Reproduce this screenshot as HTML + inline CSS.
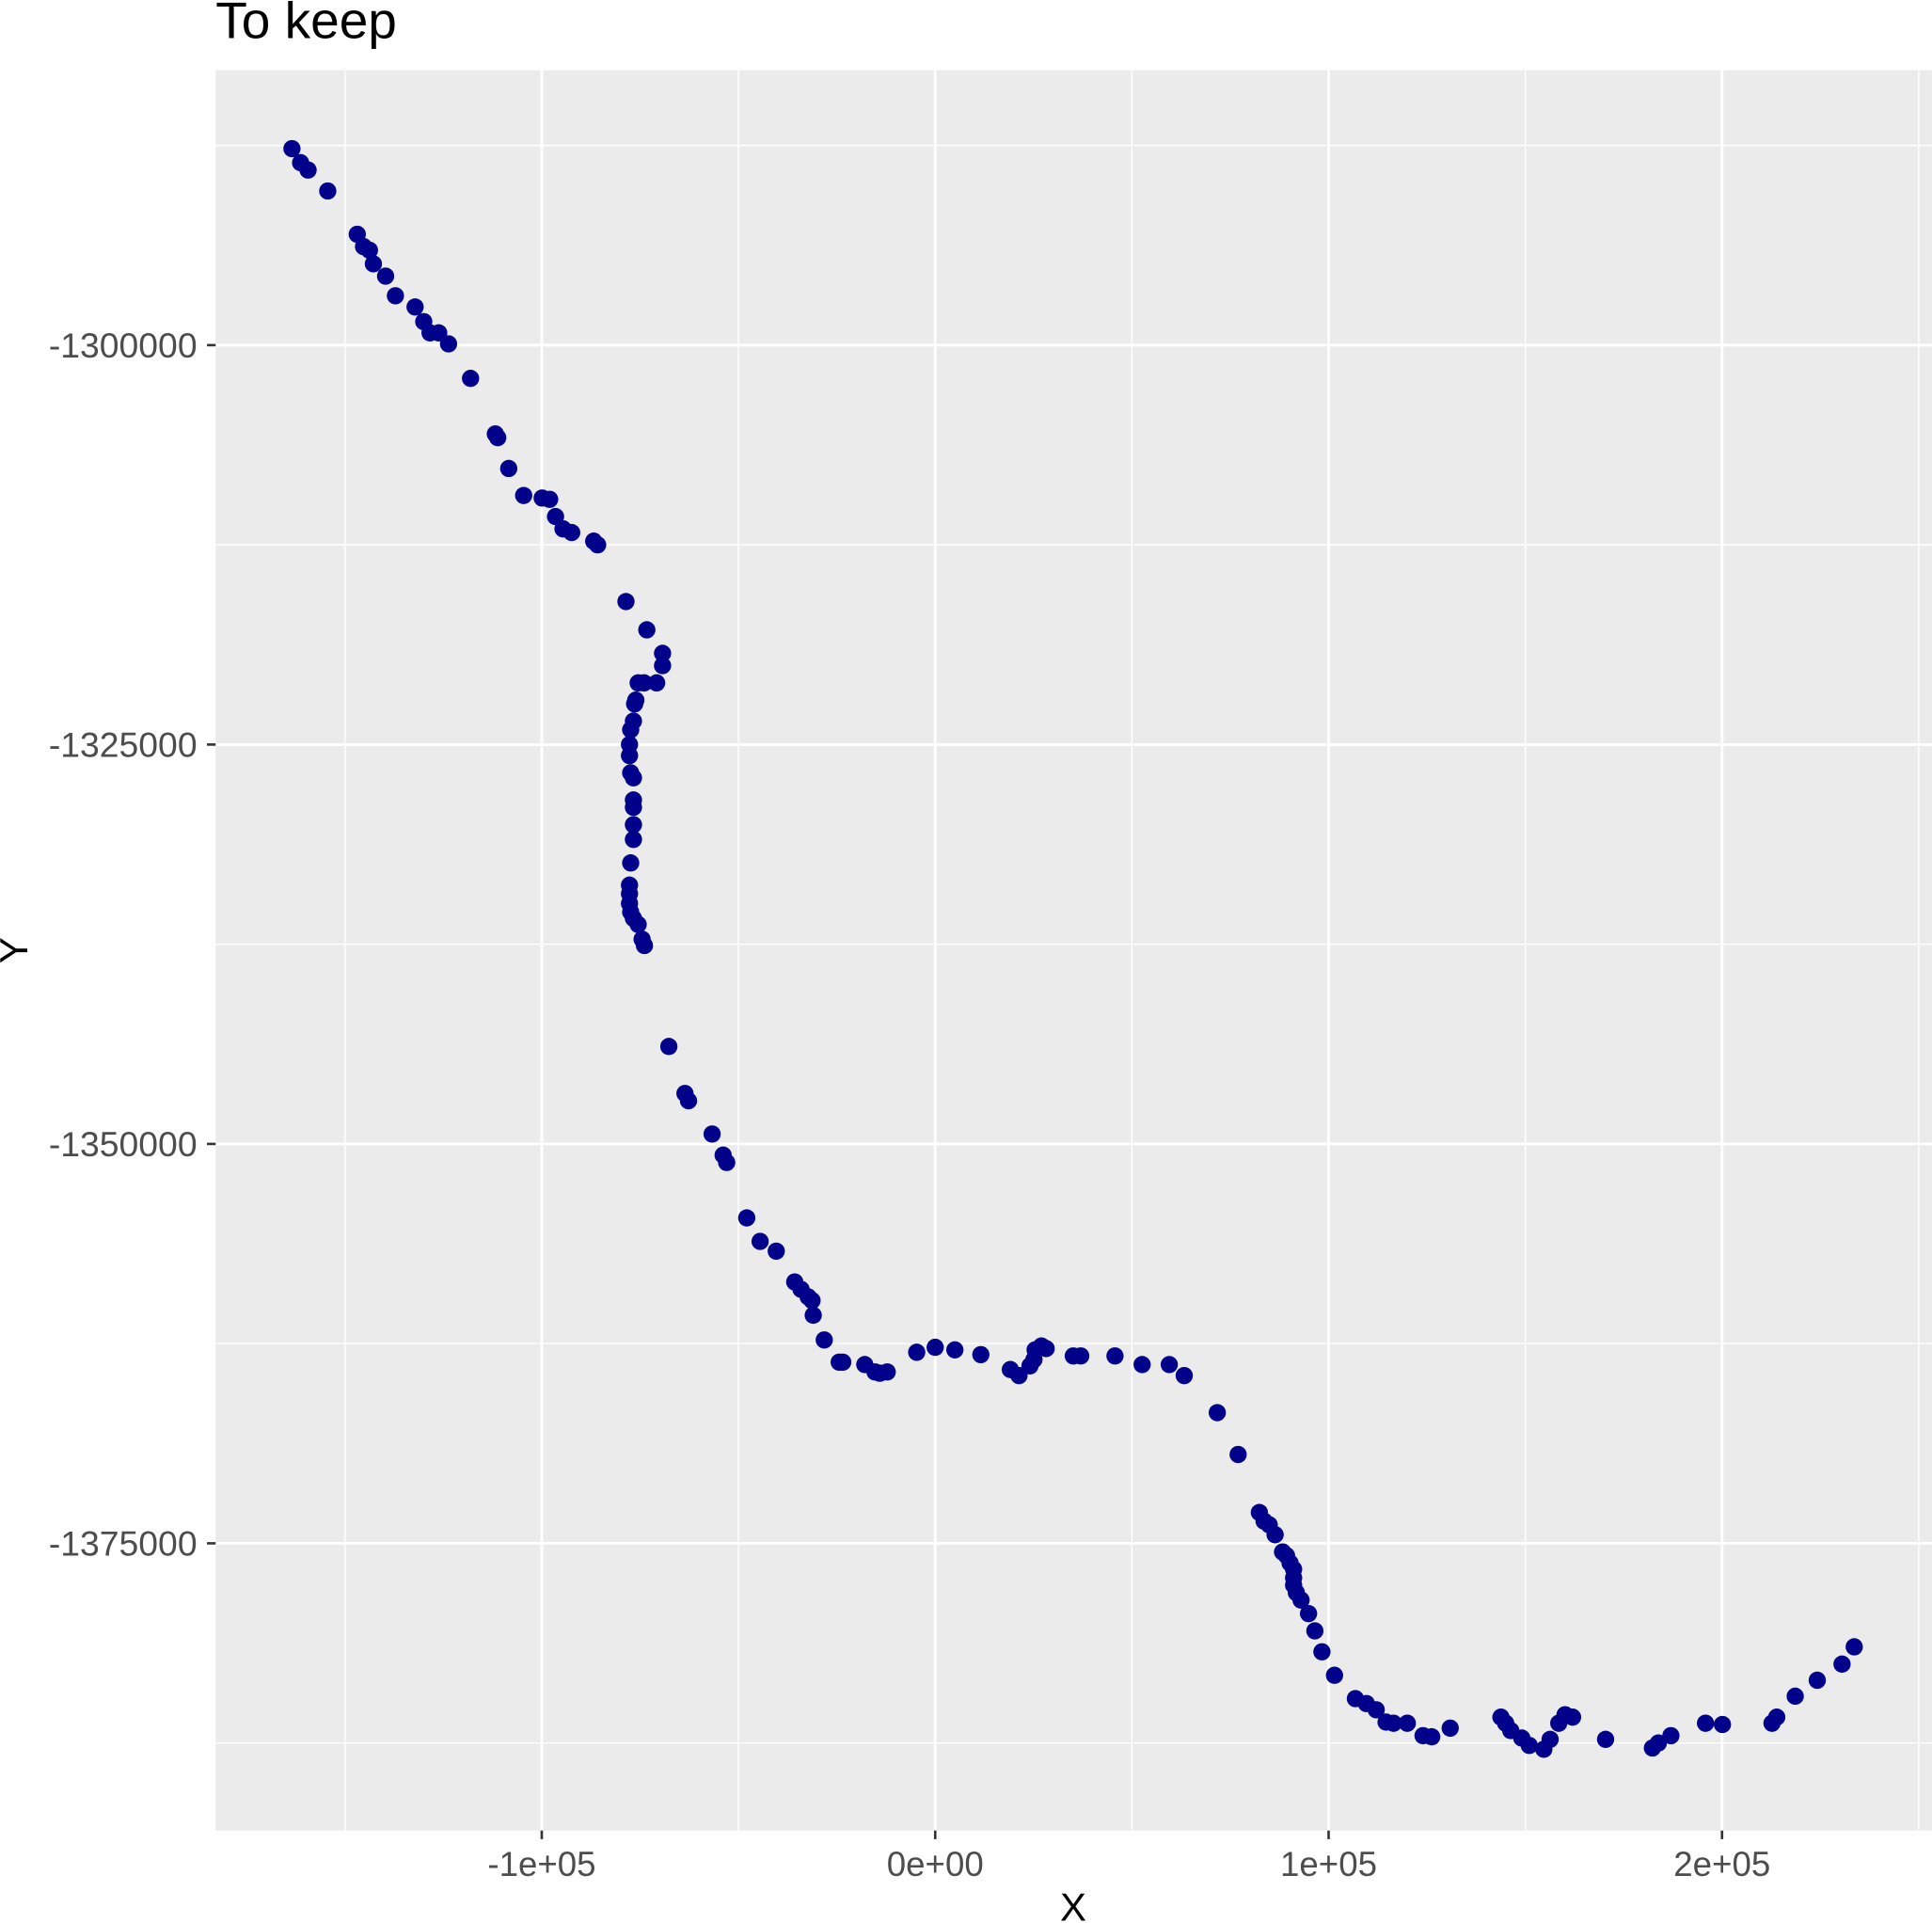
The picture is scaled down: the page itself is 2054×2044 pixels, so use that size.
<!DOCTYPE html>
<html><head><meta charset="utf-8"><style>
html,body{margin:0;padding:0;background:#fff;}
svg{display:block;font-family:"Liberation Sans",Arial,sans-serif;}
</style></head><body>
<svg id="chart" width="2054" height="2044" viewBox="0 0 1568 1560" preserveAspectRatio="none" xmlns="http://www.w3.org/2000/svg">
<text x="175" y="31" font-size="42" fill="#000">To keep</text>
<rect x="175" y="57" width="1393" height="1428" fill="#ebebeb"/>
<g id="grid"></g>
<g id="axes"></g>
<g id="points"></g>
<text x="871" y="1558" font-size="32" text-anchor="middle" fill="#000">X</text>
<text x="0" y="0" font-size="32" text-anchor="middle" fill="#000" transform="translate(22,771) rotate(-90)">Y</text>
</svg>
<script>
const xValuesK = [-163.5,-161.3,-159.4,-154.4,-146.9,-145.3,-143.8,-142.8,-139.7,-137.2,-132.2,-130.0,-128.4,-126.2,-123.7,-118.1,-111.8,-111.2,-108.4,-104.6,-99.9,-98.0,-96.5,-94.6,-92.4,-86.8,-85.8,-78.6,-73.3,-69.3,-69.3,-70.8,-74.0,-75.5,-76.1,-76.4,-76.7,-77.4,-77.7,-77.7,-77.4,-76.7,-76.7,-76.7,-76.7,-76.7,-77.4,-77.7,-77.7,-77.7,-77.4,-76.7,-75.5,-74.5,-73.9,-67.7,-63.6,-62.7,-56.7,-53.9,-53.0,-47.9,-44.5,-40.4,-35.7,-34.1,-32.3,-31.3,-31.0,-28.2,-24.4,-23.5,-17.9,-15.3,-14.1,-12.2,-4.7,0,5.0,11.6,19.1,21.3,24.1,25.1,25.4,27.0,28.2,35.1,37.0,45.7,52.6,59.5,63.3,71.7,77.0,82.4,83.6,84.9,86.4,88.3,89.3,90.2,91.1,91.1,91.1,91.8,93.0,94.9,96.5,98.3,101.5,106.8,109.6,112.1,114.6,116.5,120.0,124.0,126.2,130.9,143.8,145.0,146.3,149.1,151.0,154.7,156.3,158.5,160.1,162.0,170.4,182.3,183.8,187.0,195.8,200.1,212.7,213.9,218.6,224.2,230.5,233.6];
const yValues = [-1287700,-1288580,-1289040,-1290350,-1293060,-1293830,-1294060,-1294910,-1295680,-1296910,-1297610,-1298530,-1299230,-1299230,-1299920,-1302080,-1305560,-1305790,-1307720,-1309410,-1309570,-1309650,-1310730,-1311500,-1311730,-1312270,-1312500,-1316050,-1317820,-1319290,-1320060,-1321140,-1321140,-1321140,-1322220,-1322450,-1323530,-1324070,-1325000,-1325690,-1326770,-1327080,-1328470,-1328930,-1330020,-1330940,-1332410,-1333800,-1334340,-1334950,-1335490,-1335880,-1336260,-1337190,-1337580,-1343900,-1346840,-1347300,-1349380,-1350700,-1351160,-1354630,-1356100,-1356710,-1358640,-1359100,-1359570,-1359800,-1360720,-1362270,-1363660,-1363660,-1363810,-1364270,-1364350,-1364270,-1363040,-1362730,-1362890,-1363190,-1364120,-1364500,-1363890,-1363500,-1362890,-1362650,-1362810,-1363270,-1363270,-1363270,-1363810,-1363810,-1364500,-1366820,-1369440,-1373070,-1373610,-1373840,-1374460,-1375540,-1375770,-1376230,-1376620,-1377160,-1377620,-1378090,-1378550,-1379400,-1380480,-1381790,-1383260,-1384720,-1385030,-1385420,-1386190,-1386260,-1386260,-1387040,-1387110,-1386570,-1385880,-1386260,-1386720,-1387190,-1387650,-1387890,-1387270,-1386260,-1385730,-1385880,-1387270,-1387810,-1387500,-1387040,-1386260,-1386340,-1386260,-1385880,-1384570,-1383570,-1382560,-1381480];
const xTicks = [-100000,0,100000,200000];
const xTickLabels = ["-1e+05","0e+00","1e+05","2e+05"];
const yTicks = [-1300000,-1325000,-1350000,-1375000];
const yTickLabels = ["-1300000","-1325000","-1350000","-1375000"];

const NS="http://www.w3.org/2000/svg";
function sx(v){return 759+(v/100000)*319.3;}
function sy(v){return 280+((-1300000-v)/25000)*324;}
function mk(tag,attrs,parent){const e=document.createElementNS(NS,tag);for(const k in attrs)e.setAttribute(k,attrs[k]);parent.appendChild(e);return e;}
const grid=document.getElementById('grid'), axes=document.getElementById('axes'), pts=document.getElementById('points');
for(let v=-150000;v<=250000;v+=100000){const x=sx(v);if(x>175&&x<1568){const l=mk('line',{x1:x,x2:x,y1:57,y2:1485,stroke:'#fff','stroke-width':1.1},grid);

}}
for(let v=-1287500;v>=-1387500;v-=25000){const y=sy(v);if(y>57&&y<1485){const l=mk('line',{x1:175,x2:1568,y1:y,y2:y,stroke:'#fff','stroke-width':1.1},grid);

}}
xTicks.forEach((v,i)=>{const x=sx(v);
const l=mk('line',{x1:x,x2:x,y1:57,y2:1485,stroke:'#fff','stroke-width':2.2},grid);


const t=mk('line',{x1:x,x2:x,y1:1485,y2:1492,stroke:'#333','stroke-width':2},axes);


const tx=mk('text',{x:x,y:1522,'font-size':28,'text-anchor':'middle',fill:'#4d4d4d'},axes);tx.textContent=xTickLabels[i];

});
yTicks.forEach((v,i)=>{const y=sy(v);
const l=mk('line',{x1:175,x2:1568,y1:y,y2:y,stroke:'#fff','stroke-width':2.2},grid);


const t=mk('line',{x1:168,x2:175,y1:y,y2:y,stroke:'#333','stroke-width':2},axes);


const tx=mk('text',{x:160,y:y+10,'font-size':28.5,'text-anchor':'end',fill:'#4d4d4d'},axes);tx.textContent=yTickLabels[i];

});
xValuesK.forEach((xv,i)=>{const c=mk('circle',{cx:sx(xv*1000),cy:sy(yValues[i]),r:7,fill:'#00008b'},pts);

});
</script>
</body></html>
